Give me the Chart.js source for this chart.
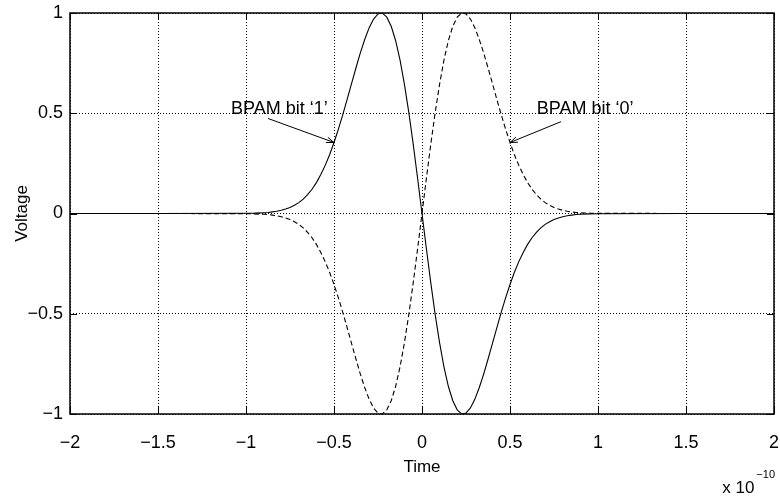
<!DOCTYPE html>
<html>
<head>
<meta charset="utf-8">
<script src="https://cdn.jsdelivr.net/npm/chart.js@4.4.0/dist/chart.umd.min.js"></script>
<style>
  html, body { margin: 0; padding: 0; background: #fff; }
  #wrap { width: 780px; height: 502px; }
</style>
</head>
<body>
<div id="wrap"><canvas id="c" width="780" height="502"></canvas></div>
<script>
// Time axis samples (units of 1e-10 s)
const times = [
  -2, -1.5, -1, -0.95, -0.9, -0.875, -0.85, -0.825, -0.8, -0.775, -0.75, -0.725, -0.7,
  -0.675, -0.65, -0.625, -0.6, -0.575, -0.55, -0.525, -0.5, -0.475, -0.45, -0.425, -0.4,
  -0.375, -0.35, -0.325, -0.3, -0.275, -0.25, -0.233, -0.225, -0.2, -0.175, -0.15, -0.125,
  -0.1, -0.075, -0.05, -0.025,
  0,
  0.025, 0.05, 0.075, 0.1, 0.125, 0.15, 0.175, 0.2, 0.225, 0.233, 0.25, 0.275, 0.3, 0.325,
  0.35, 0.375, 0.4, 0.425, 0.45, 0.475, 0.5, 0.525, 0.55, 0.575, 0.6, 0.625, 0.65, 0.675,
  0.7, 0.725, 0.75, 0.775, 0.8, 0.825, 0.85, 0.875, 0.9, 0.95, 1, 1.5, 2
];

// Pulse for bit '1' (solid)
const bit1Voltage = [
  0, 0, 0.001, 0.002, 0.004, 0.005, 0.008, 0.011, 0.016, 0.022, 0.030, 0.041, 0.054,
  0.072, 0.094, 0.121, 0.154, 0.194, 0.240, 0.293, 0.354, 0.421, 0.493, 0.570, 0.649,
  0.727, 0.802, 0.869, 0.927, 0.970, 0.995, 1.000, 0.999, 0.979, 0.934, 0.863, 0.766,
  0.645, 0.504, 0.346, 0.176,
  0,
  -0.176, -0.346, -0.504, -0.645, -0.766, -0.863, -0.934, -0.979, -0.999, -1.000, -0.995,
  -0.970, -0.927, -0.869, -0.802, -0.727, -0.649, -0.570, -0.493, -0.421, -0.354, -0.293,
  -0.240, -0.194, -0.154, -0.121, -0.094, -0.072, -0.054, -0.041, -0.030, -0.022, -0.016,
  -0.011, -0.008, -0.005, -0.004, -0.002, -0.001, 0, 0
];

// Pulse for bit '0' (dashed)
const bit0Voltage = [
  0, 0, -0.001, -0.002, -0.004, -0.005, -0.008, -0.011, -0.016, -0.022, -0.030, -0.041, -0.054,
  -0.072, -0.094, -0.121, -0.154, -0.194, -0.240, -0.293, -0.354, -0.421, -0.493, -0.570, -0.649,
  -0.727, -0.802, -0.869, -0.927, -0.970, -0.995, -1.000, -0.999, -0.979, -0.934, -0.863, -0.766,
  -0.645, -0.504, -0.346, -0.176,
  0,
  0.176, 0.346, 0.504, 0.645, 0.766, 0.863, 0.934, 0.979, 0.999, 1.000, 0.995,
  0.970, 0.927, 0.869, 0.802, 0.727, 0.649, 0.570, 0.493, 0.421, 0.354, 0.293,
  0.240, 0.194, 0.154, 0.121, 0.094, 0.072, 0.054, 0.041, 0.030, 0.022, 0.016,
  0.011, 0.008, 0.005, 0.004, 0.002, 0.001, 0, 0
];

const xTickValues = [-2, -1.5, -1, -0.5, 0, 0.5, 1, 1.5, 2];
const yTickValues = [-1, -0.5, 0, 0.5, 1];
const xAxisTitle = 'Time';
const yAxisTitle = 'Voltage';
const xExponent = '\u221210';

// Text callouts: label, label anchor, arrow tail, and the curve sample the arrow points at
const callouts = [
  { text: 'BPAM bit \u20181\u2019', at: [-1.085, 0.52], tail: [-0.875, 0.474], series: 'bit1', time: -0.5 },
  { text: 'BPAM bit \u20180\u2019', at: [0.652, 0.52], tail: [0.79, 0.458], series: 'bit0', time: 0.5 }
];

const tickFont = "'Liberation Sans', Arial, sans-serif";
const textFont = "'Liberation Sans', Arial, sans-serif";

const fmt = v => (v < 0 ? '\u2212' + String(Math.abs(v)) : String(v));

const toPoints = ys => times.map((t, i) => ({ x: t, y: ys[i] }));

// Box, inward tick marks, exponent label and callouts
const decorations = {
  id: 'decorations',
  afterDatasetsDraw(chart) {
    const { ctx, chartArea: a, scales: { x, y } } = chart;
    ctx.save();
    ctx.strokeStyle = '#000';
    ctx.lineWidth = 1;
    const tl = 7;
    ctx.beginPath();
    xTickValues.forEach(v => {
      const px = Math.round(x.getPixelForValue(v)) + 0.5;
      ctx.moveTo(px, a.bottom); ctx.lineTo(px, a.bottom - tl);
      ctx.moveTo(px, a.top); ctx.lineTo(px, a.top + tl);
    });
    yTickValues.forEach(v => {
      const py = Math.round(y.getPixelForValue(v)) + 0.5;
      ctx.moveTo(a.left, py); ctx.lineTo(a.left + tl, py);
      ctx.moveTo(a.right, py); ctx.lineTo(a.right - tl, py);
    });
    ctx.stroke();
    ctx.lineWidth = 1.5;
    ctx.strokeRect(a.left, a.top, a.right - a.left, a.bottom - a.top);

    // exponent label below the right end of the time axis
    ctx.fillStyle = '#000';
    ctx.textBaseline = 'middle';
    ctx.textAlign = 'right';
    ctx.font = '11px ' + tickFont;
    const supRight = a.right + 1;
    ctx.fillText(xExponent, supRight, a.bottom + 61);
    const supW = ctx.measureText(xExponent).width;
    ctx.font = '17px ' + tickFont;
    ctx.fillText('x 10', supRight - supW - 2, a.bottom + 74);

    // callouts
    const seriesData = { bit1: bit1Voltage, bit0: bit0Voltage };
    ctx.font = '18px ' + textFont;
    ctx.textAlign = 'left';
    ctx.lineWidth = 1;
    callouts.forEach(c => {
      ctx.fillText(c.text, x.getPixelForValue(c.at[0]), y.getPixelForValue(c.at[1]));
      const idx = times.indexOf(c.time);
      const tx = x.getPixelForValue(c.tail[0]), ty = y.getPixelForValue(c.tail[1]);
      const hx = x.getPixelForValue(c.time), hy = y.getPixelForValue(seriesData[c.series][idx]);
      ctx.beginPath();
      ctx.moveTo(tx, ty); ctx.lineTo(hx, hy);
      const ang = Math.atan2(hy - ty, hx - tx);
      const hl = 8, hw = 0.35;
      ctx.moveTo(hx, hy); ctx.lineTo(hx - hl * Math.cos(ang - hw), hy - hl * Math.sin(ang - hw));
      ctx.moveTo(hx, hy); ctx.lineTo(hx - hl * Math.cos(ang + hw), hy - hl * Math.sin(ang + hw));
      ctx.stroke();
    });
    ctx.restore();
  }
};

// fixed axis box sizes; label overflow is handled by the layout padding
const fixX = s => { s.height = 88; s.paddingLeft = 0; s.paddingRight = 0; };
const fixY = s => { s.width = 70; s.paddingTop = 0; s.paddingBottom = 0; };

new Chart(document.getElementById('c'), {
  type: 'line',
  data: {
    datasets: [
      {
        label: 'bit 1',
        data: toPoints(bit1Voltage),
        borderColor: '#000',
        borderWidth: 1.1,
        pointRadius: 0,
        tension: 0,
        fill: false
      },
      {
        label: 'bit 0',
        data: toPoints(bit0Voltage),
        borderColor: '#000',
        borderWidth: 1.1,
        borderDash: [5, 3],
        pointRadius: 0,
        tension: 0,
        fill: false
      }
    ]
  },
  options: {
    responsive: false,
    animation: false,
    devicePixelRatio: 1,
    layout: { padding: { left: 0, right: 6, top: 13, bottom: 0 } },
    plugins: { legend: { display: false }, tooltip: { enabled: false } },
    scales: {
      x: {
        type: 'linear',
        min: -2,
        max: 2,
        afterBuildTicks: s => { s.ticks = xTickValues.map(v => ({ value: v })); },
        afterFit: fixX,
        ticks: {
          callback: fmt,
          color: '#000',
          font: { family: tickFont, size: 18 },
          padding: 18,
          maxRotation: 0,
          autoSkip: false
        },
        grid: { color: '#000', lineWidth: 1, drawTicks: false },
        border: { display: false, dash: [1, 2] },
        title: {
          display: true,
          text: xAxisTitle,
          color: '#000',
          font: { family: textFont, size: 17 },
          padding: { top: 0, bottom: 24 }
        }
      },
      y: {
        type: 'linear',
        min: -1,
        max: 1,
        afterBuildTicks: s => { s.ticks = yTickValues.map(v => ({ value: v })); },
        afterFit: fixY,
        ticks: {
          callback: fmt,
          color: '#000',
          font: { family: tickFont, size: 18 },
          padding: 7,
          autoSkip: false
        },
        grid: { color: '#000', lineWidth: 1, drawTicks: false },
        border: { display: false, dash: [1, 2] },
        title: {
          display: true,
          text: yAxisTitle,
          color: '#000',
          font: { family: textFont, size: 17 },
          padding: { top: 12, bottom: 0 }
        }
      }
    }
  },
  plugins: [decorations]
});
</script>
</body>
</html>
